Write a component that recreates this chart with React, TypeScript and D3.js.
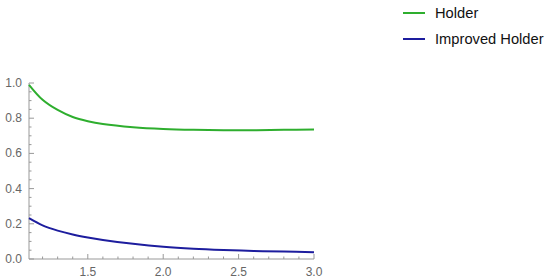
import React from "react";
import * as d3 from "d3";

const xValues = [1.11, 1.2, 1.3, 1.4, 1.5, 1.6, 1.8, 2.0, 2.2, 2.4, 2.6, 2.8, 3.0];
const holder = [0.99, 0.905, 0.847, 0.807, 0.783, 0.767, 0.749, 0.739, 0.734, 0.732, 0.732, 0.734, 0.736];
const improvedHolder = [0.232, 0.191, 0.161, 0.139, 0.122, 0.108, 0.086, 0.069, 0.058, 0.051, 0.046, 0.042, 0.039];
const xTicks = [1.5, 2.0, 2.5, 3.0];
const yTicks = [0.0, 0.2, 0.4, 0.6, 0.8, 1.0];
const seriesNames = ["Holder", "Improved Holder"];
const seriesColors = ["#2eae2e", "#1d1d9e"];

export default function App() {
  const W = 550, H = 280;
  const x = d3.scaleLinear().domain([1.11, 3.0]).range([29, 314]);
  const y = d3.scaleLinear().domain([0, 1]).range([259, 83]);
  const line = d3
    .line<[number, number]>()
    .x((d) => x(d[0]))
    .y((d) => y(d[1]))
    .curve(d3.curveCatmullRom.alpha(0.5));
  const series = [holder, improvedHolder];
  const xMinor = d3.range(12, 31).map((v) => v / 10).filter((v) => !xTicks.some((t) => Math.abs(t - v) < 1e-6));
  const yMinor = d3.range(1, 20).map((v) => v / 20).filter((v) => !yTicks.some((t) => Math.abs(t - v) < 1e-6));
  const axisColor = "#999";
  const labelColor = "#666";
  const font = "'Liberation Sans', Arial, sans-serif";
  return (
    <svg width={W} height={H} style={{ position: "absolute", left: 0, top: 0, background: "#fff" }}>
      {/* axes */}
      <line x1={x(1.11)} x2={x(3.0)} y1={y(0)} y2={y(0)} stroke={axisColor} strokeWidth={1} />
      <line x1={x(1.11)} x2={x(1.11)} y1={y(0)} y2={y(1.0)} stroke={axisColor} strokeWidth={1} />
      {xTicks.map((t) => (
        <g key={"xt" + t}>
          <line x1={x(t)} x2={x(t)} y1={y(0)} y2={y(0) - 5} stroke={axisColor} />
          <text x={x(t)} y={276} textAnchor="middle" fontSize={12} fill={labelColor} fontFamily={font}>
            {t.toFixed(1)}
          </text>
        </g>
      ))}
      {xMinor.map((t) => (
        <line key={"xm" + t} x1={x(t)} x2={x(t)} y1={y(0)} y2={y(0) - 2.5} stroke={axisColor} />
      ))}
      {yTicks.map((t) => (
        <g key={"yt" + t}>
          <line x1={x(1.11)} x2={x(1.11) + 5} y1={y(t)} y2={y(t)} stroke={axisColor} />
          <text x={22} y={y(t) + 4} textAnchor="end" fontSize={12} fill={labelColor} fontFamily={font}>
            {t.toFixed(1)}
          </text>
        </g>
      ))}
      {yMinor.map((t) => (
        <line key={"ym" + t} x1={x(1.11)} x2={x(1.11) + 2.5} y1={y(t)} y2={y(t)} stroke={axisColor} />
      ))}
      {/* series */}
      {series.map((vals, i) => (
        <path
          key={"s" + i}
          d={line(xValues.map((xv, j) => [xv, vals[j]] as [number, number])) || ""}
          fill="none"
          stroke={seriesColors[i]}
          strokeWidth={2}
        />
      ))}
      {/* legend */}
      {seriesNames.map((name, i) => (
        <g key={"lg" + i}>
          <line x1={403} x2={425} y1={13 + i * 26} y2={13 + i * 26} stroke={seriesColors[i]} strokeWidth={2} />
          <text x={435} y={18 + i * 26} fontSize={14.7} fill="#111" fontFamily={font}>
            {name}
          </text>
        </g>
      ))}
    </svg>
  );
}
